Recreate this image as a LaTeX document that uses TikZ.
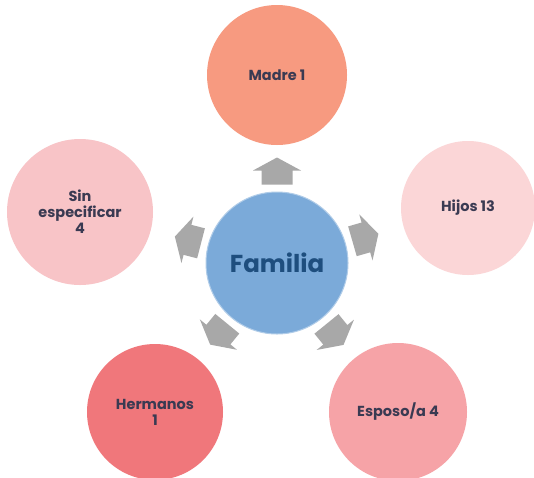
\documentclass[tikz,border=0pt]{standalone}
\usepackage{fontspec}
\setmainfont{Poppins}
\usetikzlibrary{calc}
\definecolor{cmadre}{HTML}{F79A80}
\definecolor{csin}{HTML}{F8C4C7}
\definecolor{chijos}{HTML}{FBD6D7}
\definecolor{cesposo}{HTML}{F6A3A7}
\definecolor{cherm}{HTML}{F0777B}
\definecolor{cfam}{HTML}{7BAAD9}
\definecolor{cfamtxt}{HTML}{1E4E7E}
\definecolor{ctxt}{HTML}{3A3A52}
\definecolor{carrow}{HTML}{A8A8A8}
\begin{document}
\begin{tikzpicture}[x=1pt,y=-1pt,
  outer/.style={circle, minimum size=140pt, inner sep=0pt, text=ctxt,
    font=\fontsize{14.5}{16}\selectfont\bfseries, align=center},
  center/.style={circle, minimum size=142pt, inner sep=0pt, fill=cfam,
    draw=cfam!60!white, line width=1pt, text=cfamtxt,
    font=\fontsize{24.5}{27}\selectfont\bfseries},
  barrow/.pic={\fill[carrow] (-13.5,-15.5) -- (0.5,-15.5) -- (0.5,-24) --
    (13.5,0) -- (0.5,24) -- (0.5,15.5) -- (-13.5,15.5) -- cycle;}
]
\useasboundingbox (0,0) rectangle (534,477);
\fill[white] (0,0) rectangle (534,477);
\node[center] (fam) at (277,263) {Familia};
\node[outer, fill=cmadre] (madre) at (277,75) {Madre 1};
\node[outer, fill=chijos, minimum size=134pt] (hijos) at (468,208) {Hijos 13};
\node[outer, fill=cesposo, minimum size=138pt] (esposo) at (398,412) {Esposo/a 4};
\node[outer, fill=cherm, minimum size=136pt] (herm) at (155,412) {Hermanos\\1};
\node[outer, fill=csin, minimum size=146pt] (sin) at (80,212) {Sin\\especificar\\4};
\foreach \t in {madre,hijos,esposo,herm,sin}{
  \path let \p1=($(\t)-(fam)$), \n1={atan2(\y1,\x1)} in
    pic[rotate=\n1] at ($(fam)!92pt!(\t)$) {barrow};
}
\end{tikzpicture}
\end{document}
